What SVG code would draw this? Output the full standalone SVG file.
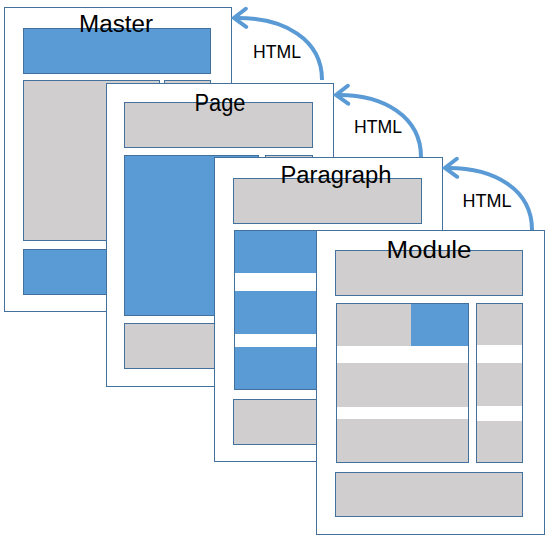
<svg xmlns="http://www.w3.org/2000/svg" width="550" height="538" viewBox="0 0 550 538">
<defs>
<style>
.page{fill:#fff;stroke:#41719C;stroke-width:1}
.b{fill:#5B9BD5;stroke:#41719C;stroke-width:1}
.g{fill:#D0CECE;stroke:#41719C;stroke-width:1}
.w{fill:#fff;stroke:none}
.bf{fill:#5B9BD5;stroke:none}
.title{font-family:"Liberation Sans",Arial,sans-serif;font-size:23px;fill:#000;text-anchor:middle}
.lbl{font-family:"Liberation Sans",Arial,sans-serif;font-size:18px;fill:#000;text-anchor:middle}
.arr{fill:none;stroke:#5B9BD5;stroke-width:4;marker-end:url(#ah)}
</style>
<marker id="ah" markerUnits="userSpaceOnUse" viewBox="-16 -12 20 24" markerWidth="20" markerHeight="24" refX="0" refY="0" orient="auto">
<path d="M-12,-9 L0,0 L-12,9" fill="none" stroke="#5B9BD5" stroke-width="4" stroke-linecap="round" stroke-linejoin="miter"/>
</marker>
</defs>
<rect width="550" height="538" fill="#fff"/>

<g id="master">
<rect class="page" x="4.5" y="7.5" width="227" height="304"/>
<rect class="b" x="23.5" y="28.5" width="187" height="45"/>
<rect class="g" x="23.5" y="80.5" width="136" height="160"/>
<rect class="g" x="164.5" y="80.5" width="46" height="160"/>
<rect class="b" x="23.5" y="249.5" width="187" height="45"/>
<text class="title" x="116" y="32" textLength="74" lengthAdjust="spacingAndGlyphs">Master</text>
</g>

<g id="page">
<rect class="page" x="106.5" y="83.5" width="227" height="303"/>
<rect class="g" x="124.5" y="102.5" width="188" height="45"/>
<rect class="b" x="124.5" y="155.5" width="134" height="160"/>
<rect class="g" x="265.5" y="155.5" width="47" height="160"/>
<rect class="g" x="124.5" y="323.5" width="188" height="45"/>
<text class="title" x="220" y="110.5" textLength="51" lengthAdjust="spacingAndGlyphs">Page</text>
</g>

<g id="paragraph">
<rect class="page" x="214.5" y="157.5" width="228" height="304"/>
<rect class="g" x="233.5" y="178.5" width="188" height="45"/>
<rect class="b" x="234.5" y="230.5" width="136" height="159"/>
<rect class="w" x="235" y="273" width="135" height="18"/>
<rect class="w" x="235" y="334" width="135" height="13"/>
<rect class="g" x="375.5" y="230.5" width="46" height="159"/>
<rect class="g" x="233.5" y="399.5" width="188" height="45"/>
<text class="title" x="336" y="182.5" textLength="111" lengthAdjust="spacingAndGlyphs">Paragraph</text>
</g>

<g id="module">
<rect class="page" x="316.5" y="230.5" width="228" height="304"/>
<rect class="g" x="335.5" y="250.5" width="187" height="45"/>
<rect class="g" x="336.5" y="303.5" width="132" height="159"/>
<rect class="bf" x="411" y="304" width="57" height="42"/>
<rect class="w" x="337" y="346" width="131" height="17"/>
<rect class="w" x="337" y="407" width="131" height="12"/>
<rect class="g" x="476.5" y="303.5" width="46" height="159"/>
<rect class="w" x="477" y="345" width="45" height="18"/>
<rect class="w" x="477" y="406" width="45" height="15"/>
<rect class="g" x="335.5" y="472.5" width="187" height="44"/>
<text class="title" x="429" y="258" textLength="85" lengthAdjust="spacingAndGlyphs">Module</text>
</g>

<g id="connectors">
<path class="arr" d="M322,80 C322,40 285,17 234,18"/>
<path class="arr" d="M421,157 C421,117 384,94 336,95"/>
<path class="arr" d="M532,230 C532,190 495,167 445,168"/>
<text class="lbl" x="277" y="57.5" textLength="48" lengthAdjust="spacingAndGlyphs">HTML</text>
<text class="lbl" x="378" y="133" textLength="48" lengthAdjust="spacingAndGlyphs">HTML</text>
<text class="lbl" x="487" y="207" textLength="49" lengthAdjust="spacingAndGlyphs">HTML</text>
</g>
</svg>
